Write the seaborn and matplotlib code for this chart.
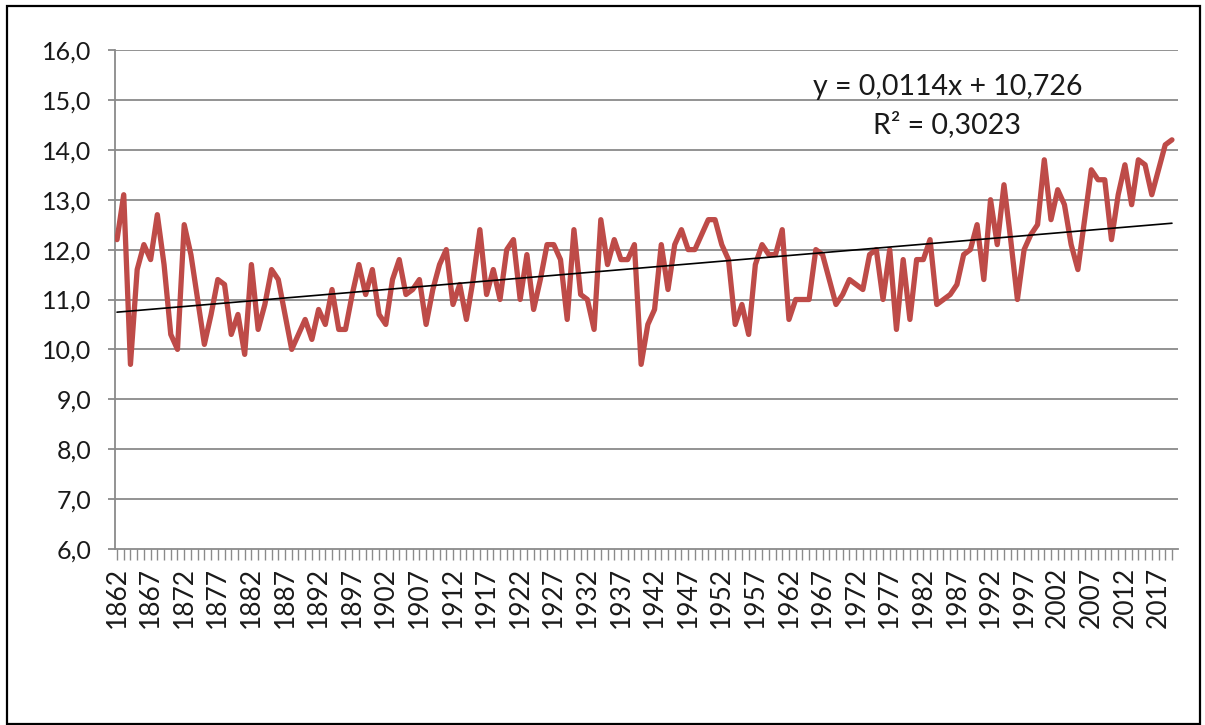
import numpy as np
import pandas as pd
import matplotlib
matplotlib.use("Agg")
import matplotlib.pyplot as plt
from matplotlib.patches import Rectangle
import seaborn as sns

years = list(range(1862, 2020))
temps = [
    12.2, 13.1, 9.7, 11.6, 12.1, 11.8, 12.7, 11.7, 10.3, 10.0,   # 1862-1871
    12.5, 11.9, 11.0, 10.1, 10.7, 11.4, 11.3, 10.3, 10.7, 9.9,   # 1872-1881
    11.7, 10.4, 10.9, 11.6, 11.4, 10.7, 10.0, 10.3, 10.6, 10.2,  # 1882-1891
    10.8, 10.5, 11.2, 10.4, 10.4, 11.1, 11.7, 11.1, 11.6, 10.7,  # 1892-1901
    10.5, 11.4, 11.8, 11.1, 11.2, 11.4, 10.5, 11.2, 11.7, 12.0,  # 1902-1911
    10.9, 11.3, 10.6, 11.4, 12.4, 11.1, 11.6, 11.0, 12.0, 12.2,  # 1912-1921
    11.0, 11.9, 10.8, 11.4, 12.1, 12.1, 11.8, 10.6, 12.4, 11.1,  # 1922-1931
    11.0, 10.4, 12.6, 11.7, 12.2, 11.8, 11.8, 12.1, 9.7, 10.5,   # 1932-1941
    10.8, 12.1, 11.2, 12.1, 12.4, 12.0, 12.0, 12.3, 12.6, 12.6,  # 1942-1951
    12.1, 11.8, 10.5, 10.9, 10.3, 11.7, 12.1, 11.9, 11.9, 12.4,  # 1952-1961
    10.6, 11.0, 11.0, 11.0, 12.0, 11.9, 11.4, 10.9, 11.1, 11.4,  # 1962-1971
    11.3, 11.2, 11.9, 12.0, 11.0, 12.0, 10.4, 11.8, 10.6, 11.8,  # 1972-1981
    11.8, 12.2, 10.9, 11.0, 11.1, 11.3, 11.9, 12.0, 12.5, 11.4,  # 1982-1991
    13.0, 12.1, 13.3, 12.2, 11.0, 12.0, 12.3, 12.5, 13.8, 12.6,  # 1992-2001
    13.2, 12.9, 12.1, 11.6, 12.6, 13.6, 13.4, 13.4, 12.2, 13.1,  # 2002-2011
    13.7, 12.9, 13.8, 13.7, 13.1, 13.6, 14.1, 14.2,              # 2012-2019
]
y_ticks = [6, 7, 8, 9, 10, 11, 12, 13, 14, 15, 16]
equation_text = "y = 0,0114x + 10,726"
r2_text = "R² = 0,3023"

df = pd.DataFrame({"year": years, "temp": temps})
df["pos"] = np.arange(len(df))

sns.set_theme(style="white")
plt.rcParams["font.family"] = ["Lato", "DejaVu Sans"]

fig = plt.figure(figsize=(12.05, 7.25), dpi=100)
ax = fig.add_axes([115 / 1205, 1 - 549 / 725, (1178 - 115) / 1205, (549 - 50) / 725])

grid_color = "#8a8a8a"
text_color = "#1a1a1a"
for v in y_ticks[1:]:
    ax.axhline(v, color=grid_color, lw=1.3, zorder=0)

sns.lineplot(data=df, x="pos", y="temp", ax=ax, color="#BE4B48", lw=3.8, zorder=3)
sns.regplot(data=df, x="pos", y="temp", ax=ax, scatter=False, ci=None, truncate=True,
            line_kws=dict(color="black", lw=1.2, zorder=4))

ax.set_ylim(6, 16)
ax.set_xlim(-0.3, len(df) - 1 + 0.9)
ax.set_yticks(y_ticks)
ax.set_yticklabels([f"{v:.1f}".replace(".", ",") for v in y_ticks], fontsize=18)
ax.set_xticks(df["pos"])
ax.set_xticklabels([str(y) if (y - years[0]) % 5 == 0 else "" for y in years],
                   rotation=90, fontsize=19)
ax.set_xlabel("")
ax.set_ylabel("")

for side in ["top", "right"]:
    ax.spines[side].set_visible(False)
for side in ["left", "bottom"]:
    ax.spines[side].set_color(grid_color)
    ax.spines[side].set_linewidth(1.3)

ax.tick_params(axis="x", which="both", bottom=True, length=8, width=1.0,
               color=grid_color, pad=5, labelcolor=text_color)
ax.tick_params(axis="y", left=True, length=5, width=1.3, color=grid_color, pad=12,
               labelcolor=text_color)

ax.text(0.783, 0.926, equation_text, transform=ax.transAxes, ha="center", va="center",
        fontsize=20.5, color=text_color)
ax.text(0.783, 0.850, r2_text, transform=ax.transAxes, ha="center", va="center",
        fontsize=20.5, color=text_color)

fig.patches.append(Rectangle((7 / 1205, 0.002), (1200 - 7) / 1205, (724 - 6) / 725,
                             transform=fig.transFigure, fill=False, edgecolor="black",
                             lw=1.6))

fig.savefig("out.png", dpi=100)
